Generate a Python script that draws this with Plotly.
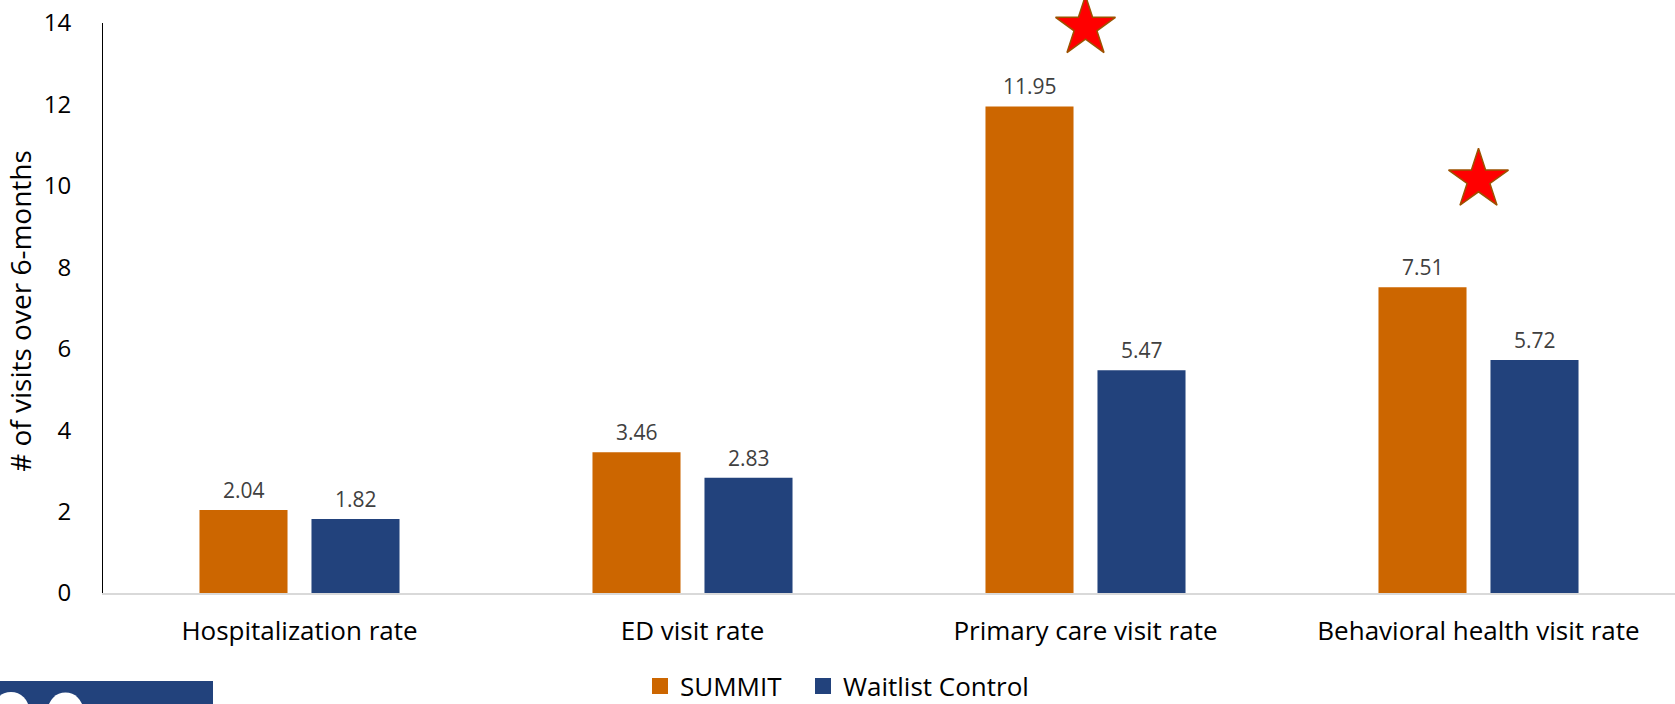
import plotly.graph_objects as go

# Visit rates over 6 months by arm
categories = ["Hospitalization rate", "ED visit rate",
              "Primary care visit rate", "Behavioral health visit rate"]
summit = [2.04, 3.46, 11.95, 7.51]
waitlist = [1.82, 2.83, 5.47, 5.72]
# significance markers (height of the star per category, None = not significant)
sig_star_y = [None, None, 13.9, 10.15]

ORANGE = "#CC6600"
NAVY = "#22427C"
FONT = "Open Sans"

W, H = 1675, 704
ML, MR, MT, MB = 103, 0, 23, 111
pw, ph = W - ML - MR, H - MT - MB
px = lambda v: (v - ML) / pw
py = lambda v: (H - MB - v) / ph

fig = go.Figure()

fig.add_trace(go.Bar(x=categories, y=summit, name="SUMMIT",
                     marker=dict(color=ORANGE, line=dict(width=0)),
                     showlegend=False))
fig.add_trace(go.Bar(x=categories, y=waitlist, name="Waitlist Control",
                     marker=dict(color=NAVY, line=dict(width=0)),
                     showlegend=False))

# legend entries with larger square swatches, one legend box each
for name, col, lg in [("SUMMIT", ORANGE, "legend"),
                      ("Waitlist Control", NAVY, "legend2")]:
    fig.add_trace(go.Scatter(x=[None], y=[None], mode="markers", name=name,
                             legend=lg,
                             marker=dict(symbol="square", size=16, color=col)))

# stars marking significant differences
fig.add_trace(go.Scatter(
    x=[c for c, s in zip(categories, sig_star_y) if s is not None],
    y=[s for s in sig_star_y if s is not None],
    mode="markers", showlegend=False, cliponaxis=False, hoverinfo="skip",
    marker=dict(symbol="star", size=45, color="#FF0000",
                line=dict(color="#9C5200", width=1.5))))

# value labels above each bar
for vals, shift in [(summit, -56), (waitlist, 56)]:
    for c, v in zip(categories, vals):
        fig.add_annotation(x=c, y=v, text=f"{v:.2f}", showarrow=False,
                           xshift=shift, yanchor="bottom", yshift=4,
                           font=dict(family=FONT, size=21, color="#404040"))

# y-axis title
fig.add_annotation(text="# of visits over 6-months", textangle=-90,
                   xref="paper", yref="paper", x=px(20),
                   y=0.495, xanchor="center", yanchor="middle", showarrow=False,
                   font=dict(family=FONT, size=28, color="#000000"))

# partial logo block in the lower-left corner
fig.add_shape(type="rect", xref="paper", yref="paper",
              x0=px(0), x1=px(213), y0=py(681), y1=py(706),
              fillcolor=NAVY, line=dict(width=0), layer="above")
for cx, r in [(11, 18), (65.5, 17.5)]:
    fig.add_shape(type="circle", xref="paper", yref="paper",
                  x0=px(cx - r), x1=px(cx + r), y0=py(710 - r), y1=py(710 + r),
                  fillcolor="white", line=dict(width=0), layer="above")

legend_style = dict(orientation="h", xanchor="left", yanchor="middle",
                    y=py(686), itemsizing="trace", bgcolor="rgba(0,0,0,0)",
                    font=dict(family=FONT, size=26, color="#000000"))

fig.update_layout(
    width=W, height=H,
    margin=dict(l=ML, r=MR, t=MT, b=MB, pad=0, autoexpand=False),
    paper_bgcolor="white", plot_bgcolor="white",
    barmode="group", bargap=0.43, bargroupgap=0.214,
    font=dict(family=FONT, color="#000000"),
    legend=dict(x=px(640), **legend_style),
    legend2=dict(x=px(803), **legend_style),
    xaxis=dict(showline=True, linecolor="#D9D9D9", linewidth=1.5,
               showgrid=False, zeroline=False, ticks="", automargin=False,
               ticklabelstandoff=14,
               tickfont=dict(family=FONT, size=26, color="#000000")),
    yaxis=dict(range=[0, 14], dtick=2, showline=True, linecolor="#000000",
               linewidth=1, showgrid=False, zeroline=False, ticks="",
               automargin=False, ticklabelstandoff=26,
               tickfont=dict(family=FONT, size=24, color="#000000")),
)

fig.write_html("out.html")
